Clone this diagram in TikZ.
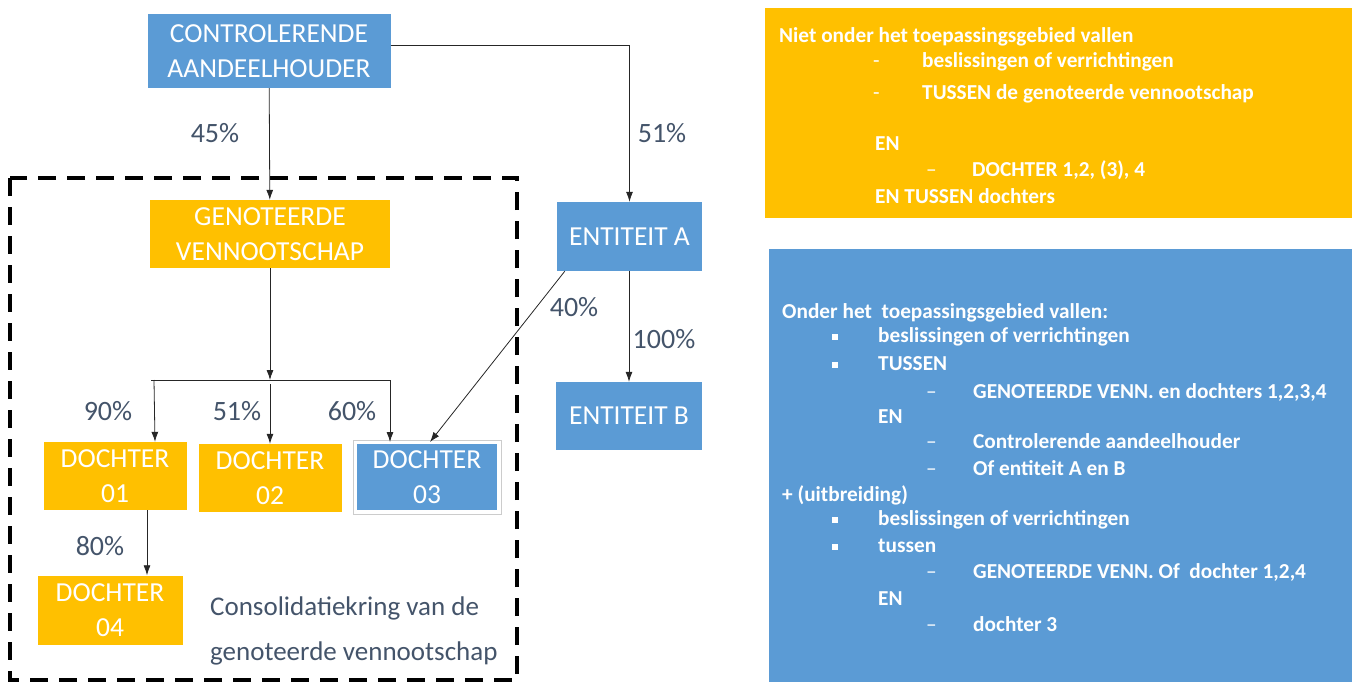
\documentclass[tikz,border=0pt]{standalone}
\usepackage{fontspec}
\setmainfont{Carlito}
\usetikzlibrary{
  positioning,
  arrows.meta,
  calc
}
\definecolor{boxblue}{HTML}{5B9BD5}
\definecolor{boxgold}{HTML}{FFC000}
\definecolor{pctgray}{HTML}{44546A}
\tikzset{
  >={Latex[length=10pt,width=7pt]},
  entity/.style={
    fill=#1, text=white, align=center, inner sep=0pt,
    font=\fontsize{27.5}{35}\selectfont
  },
  entity/.default=boxblue,
  pct/.style={text=pctgray, inner sep=0pt, font=\fontsize{28}{30}\selectfont},
  link/.style={->, draw=black!85, line width=0.8pt},
  note/.style={text=white, anchor=west, inner sep=0pt,
    text height=15pt, text depth=4pt,
    font=\bfseries\fontsize{21.3}{24}\selectfont},
  sqbullet/.style={fill=white, inner sep=0pt, minimum size=6pt}
}

\begin{document}
\begin{tikzpicture}[x=1pt,y=-1pt]
\useasboundingbox (0,0) rectangle (1357,682);
% consolidation circle
\draw[line width=4pt, dash pattern=on 18pt off 11pt] (10,178) rectangle (517,680);
\node[text=pctgray, anchor=west, align=left, inner sep=0pt,
  font=\fontsize{27}{45}\selectfont] (kring) at (210,631)
  {Consolidatiekring van de\\genoteerde vennootschap};
% entities
\node[entity, minimum width=243pt, minimum height=74pt] (ca) at (269,51) {CONTROLERENDE\\AANDEELHOUDER};
\node[entity=boxgold, minimum width=240pt, minimum height=68pt] (gv) at (270,234) {GENOTEERDE\\VENNOOTSCHAP};
\node[entity, minimum width=145pt, minimum height=69pt] (ea) at (629.5,236.5) {ENTITEIT A};
\node[entity, minimum width=146pt, minimum height=68pt] (eb) at (629,416) {ENTITEIT B};
\node[entity=boxgold, minimum width=143pt, minimum height=68pt] (d1) at (115,476) {DOCHTER\\01};
\node[entity=boxgold, minimum width=143pt, minimum height=68pt] (d2) at (270,478) {DOCHTER\\02};
\node[entity, minimum width=142pt, minimum height=68pt, draw=white, line width=2pt] (d3) at (427,477) {DOCHTER\\03};
\draw[gray!40, line width=0.6pt] ($(d3.south west)+(-2,2)$) rectangle ($(d3.north east)+(2,-2)$);
\node[entity=boxgold, minimum width=145pt, minimum height=69pt] (d4) at (110,610) {DOCHTER\\04};
% shareholdings
\coordinate (split) at (gv.south |- 0,380);
\draw[link] (ca) -- (gv);
\draw[link] (ca.east |- 0,45) -| (ea.north);
\draw[link] (gv) -- (split);
\draw[draw=black!85, line width=0.8pt] ($(split)+(-119,0)$) -- ($(split)+(120,0)$);
\draw[link] ($(split)+(-116,0)$) -- ($(d1.north)+(40,0)$);
\draw[link] ($(split)+(0,4)$) -- (d2.north);
\draw[link] ($(split)+(120,0)$) -- ($(d3.north)+(-37,0)$);
\draw[link] ($(ea.south west)+(8,0)$) -- ($(d3.north)+(3,0)$);
\draw[link] (ea.south -| eb) -- (eb);
\draw[link] ($(d1.south)+(32,0)$) -- ($(d4.north)+(37,0)$);
\foreach \name/\pos/\val in {%
  p45/{(215,133)}/45\%,
  p51a/{(662,133)}/51\%,
  p40/{(574,307)}/40\%,
  p100/{(664,339)}/100\%,
  p90/{(108,411)}/90\%,
  p51b/{(237,411)}/51\%,
  p60/{(352,411)}/60\%,
  p80/{(100,546)}/80\%%
} {
  \node[pct] (\name) at \pos {\val};
}
% scope notes
\node[fill=boxgold, minimum width=587pt, minimum height=210pt, inner sep=0pt] (outscope) at (1058.5,113) {};
\node[fill=boxblue, minimum width=583pt, minimum height=433pt, inner sep=0pt] (inscope) at (1060.5,465.5) {};
\foreach \xpos/\ypos/\txt in {%
  779/37/Niet onder het toepassingsgebied vallen,
  873/62/{\mdseries -},
  922/62/beslissingen of verrichtingen,
  873/94/{\mdseries -},
  922/94/TUSSEN de genoteerde vennootschap,
  875/145/EN,
  926/171/{\mdseries --},
  972/171/{DOCHTER 1,2, (3), 4},
  875/198/EN TUSSEN dochters,
  782/313/{Onder het\ \ toepassingsgebied vallen:},
  878/337/beslissingen of verrichtingen,
  878/365/TUSSEN,
  926/393/{\mdseries --},
  973/393/{GENOTEERDE VENN. en dochters 1,2,3,4},
  878/418/EN,
  926/443/{\mdseries --},
  973/443/Controlerende aandeelhouder,
  926/470/{\mdseries --},
  973/470/Of entiteit A en B,
  782/496/+ (uitbreiding),
  878/520/beslissingen of verrichtingen,
  878/547/tussen,
  926/573/{\mdseries --},
  973/573/{GENOTEERDE VENN. Of\ \ dochter 1,2,4},
  878/600/EN,
  926/626/{\mdseries --},
  973/626/dochter 3%
} {
  \node[note] at (\xpos,\ypos) {\txt};
}
\foreach \ypos in {337,365,520,547} {
  \node[sqbullet] at (835,\ypos) {};
}
\end{tikzpicture}
\end{document}
